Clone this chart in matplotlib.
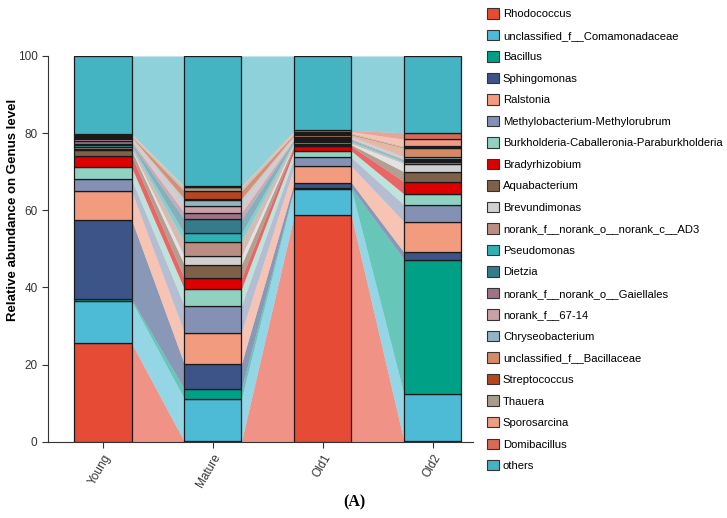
"""Stacked genus abundance bars with flow bands between groups."""
import numpy as np
import matplotlib
matplotlib.use("Agg")
import matplotlib.pyplot as plt
from matplotlib.patches import Patch

plt.rcParams["font.family"] = ["Liberation Sans", "DejaVu Sans"]

# groups on x axis
groups = ["Young", "Mature", "Old1", "Old2"]

genera = ["Rhodococcus", "unclassified_f__Comamonadaceae", "Bacillus", "Sphingomonas",
          "Ralstonia", "Methylobacterium-Methylorubrum",
          "Burkholderia-Caballeronia-Paraburkholderia", "Bradyrhizobium", "Aquabacterium",
          "Brevundimonas", "norank_f__norank_o__norank_c__AD3", "Pseudomonas", "Dietzia",
          "norank_f__norank_o__Gaiellales", "norank_f__67-14", "Chryseobacterium",
          "unclassified_f__Bacillaceae", "Streptococcus", "Thauera", "Sporosarcina",
          "Domibacillus", "others"]

colors = ["#E64B35", "#4DBBD5", "#00A087", "#3C5488", "#F39B7F", "#8491B4", "#91D1C2",
          "#DC0000", "#7E6148", "#D0D0D0", "#BC8E83", "#2FB0B3", "#347C8C", "#9E7388",
          "#C8A0A8", "#91B5C3", "#D48A66", "#B5461F", "#A89B8A", "#EE9C84", "#D66A55",
          "#44B3C2"]

# relative abundance (%) per genus
young  = [25.6, 10.9, 0.5, 20.6, 7.4, 3.1, 3.1, 3.0, 1.4, 0.3, 0.5, 0.5, 0.4, 0.6, 0.5,
          0.3, 0.3, 0.2, 0.3, 0.2, 0.2, 20.1]
mature = [0.1, 11.1, 2.5, 6.5, 8.1, 7.0, 4.3, 2.8, 3.5, 2.2, 3.8, 2.1, 3.7, 1.7, 1.8,
          1.4, 0.4, 2.0, 1.0, 0.1, 0.1, 33.8]
old1   = [58.7, 6.8, 0.3, 1.4, 4.2, 2.3, 1.7, 1.2, 0.4, 0.3, 0.3, 0.3, 0.3, 0.3, 0.3,
          0.3, 0.4, 0.3, 0.3, 0.3, 0.3, 19.3]
old2   = [0.1, 12.2, 34.9, 1.9, 7.9, 4.4, 2.8, 3.2, 2.6, 2.1, 0.3, 0.3, 0.3, 0.2, 0.2,
          0.5, 2.2, 0.3, 0.3, 1.7, 1.7, 19.9]

data = np.array([young, mature, old1, old2])
x = np.arange(len(groups))
width = 0.52

fig = plt.figure(figsize=(7.27, 5.18), dpi=100)
ax = fig.add_axes([0.066, 0.147, 0.585, 0.745])

bottoms = np.zeros(len(groups))
for k in range(len(genera)):
    vals = data[:, k]
    # flow bands between neighbouring bars
    for i in range(len(groups) - 1):
        xs = [x[i] + width / 2, x[i + 1] - width / 2]
        ax.fill_between(xs, [bottoms[i], bottoms[i + 1]],
                        [bottoms[i] + vals[i], bottoms[i + 1] + vals[i + 1]],
                        color=colors[k], alpha=0.6, linewidth=0, zorder=1)
    ax.bar(x, vals, width, bottom=bottoms, color=colors[k],
           edgecolor="#1a1a1a", linewidth=0.9, zorder=3)
    bottoms = bottoms + vals

ax.set_xlim(-0.5, 3.37)
ax.set_ylim(0, 100)
ax.set_yticks([0, 20, 40, 60, 80, 100])
ax.set_xticks(x)
ax.set_xticklabels(groups, rotation=60, ha="right", rotation_mode="anchor", fontsize=8.5,
                   color="#333333")
ax.tick_params(axis="y", labelsize=8.5, labelcolor="#333333")
ax.tick_params(length=4, width=0.8, color="#333333")
ax.spines["top"].set_visible(False)
ax.spines["right"].set_visible(False)
ax.spines["left"].set_color("#333333")
ax.spines["bottom"].set_color("#333333")
ax.set_ylabel("Relative abundance on Genus level", fontsize=9.5, fontweight="bold")
ax.yaxis.set_label_coords(-0.068, 0.6)

handles = [Patch(facecolor=c, edgecolor="#333333", linewidth=0.8) for c in colors]
fig.legend(handles, genera, loc="upper left", bbox_to_anchor=(0.664, 0.993),
           frameon=False, fontsize=8.1, handlelength=1.05, handleheight=1.05,
           handletextpad=0.35, labelspacing=0.93, borderaxespad=0)

fig.text(0.487, 0.023, "(A)", fontsize=11.5, fontweight="bold",
         family="Liberation Serif", ha="center")

fig.savefig("out.png", dpi=100)
